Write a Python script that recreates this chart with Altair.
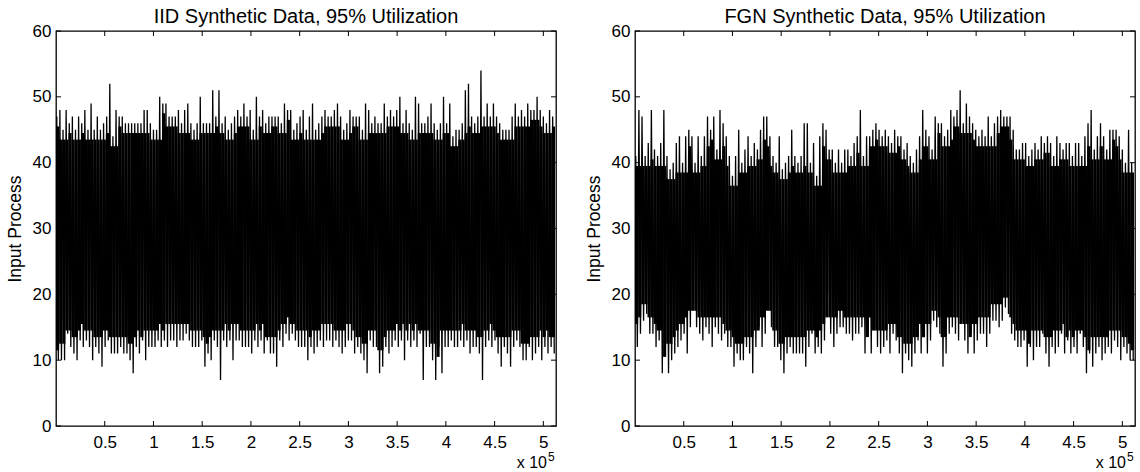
import altair as alt
import pandas as pd

# ---------------- data ----------------
N_TOTAL = 513000          # x extent of both panels (samples)
BIN = 3200                # samples summarised by each hi/lo pair

iid_hi = [47, 48, 45, 48, 46, 47, 45, 47, 46, 48,
          45, 49, 45, 47, 45, 46, 47, 52, 44, 48,
          47, 47, 46, 46, 46, 46, 46, 46, 48, 48,
          46, 45, 45, 50, 49, 49, 47, 47, 47, 48,
          46, 48, 49, 46, 45, 46, 50, 46, 46, 46,
          51, 47, 51, 46, 47, 45, 46, 47, 48, 47,
          49, 47, 48, 45, 50, 47, 48, 46, 47, 47,
          47, 47, 46, 49, 48, 48, 45, 46,
          47, 48, 45, 47, 49, 45, 46, 47, 48, 47,
          47, 48, 49, 47, 45, 46, 48, 47, 47, 47,
          45, 49, 48, 46, 47, 46, 46, 49, 47, 48,
          47, 48, 50, 46, 48, 46, 45, 50, 49, 46,
          46, 47, 49, 46, 45, 46, 50, 46, 49, 44,
          45, 45, 46, 51, 52, 47, 46, 47, 54, 47,
          49, 47, 49, 47, 46, 45, 45, 45, 47, 49,
          47, 48, 47, 49, 48, 48, 50, 48, 47, 46,
          48, 47]

iid_lo = [10, 10, 10, 14, 12, 11, 10, 13, 12, 13,
          12, 10, 12, 11, 9, 12, 13, 11, 11, 11,
          12, 11, 11, 10, 8, 12, 11, 13, 10, 12,
          12, 12, 13, 12, 13, 12, 13, 13, 12, 13,
          13, 14, 13, 12, 12, 12, 13, 9, 11, 10,
          13, 12, 7, 13, 12, 13, 10, 13, 13, 12,
          12, 12, 11, 13, 12, 13, 11, 13, 11, 11,
          9, 13, 12, 14, 13, 14, 13, 12,
          12, 12, 10, 12, 11, 12, 13, 12, 13, 13,
          12, 13, 12, 11, 12, 13, 13, 11, 12, 11,
          10, 8, 13, 12, 12, 8, 9, 12, 11, 12,
          13, 12, 13, 10, 13, 12, 13, 12, 14, 7,
          12, 12, 10, 7, 12, 8, 12, 12, 13, 12,
          12, 13, 12, 13, 11, 12, 12, 11, 7, 12,
          13, 12, 13, 11, 9, 12, 11, 9, 12, 13,
          12, 10, 10, 12, 10, 11, 12, 10, 12, 11,
          12, 11]

fgn_hi = [41, 48, 47, 41, 43, 48, 42, 41, 43, 48,
          41, 39, 40, 43, 44, 40, 44, 45, 44, 40,
          44, 41, 44, 47, 45, 47, 42, 48, 46, 44,
          41, 38, 41, 45, 40, 42, 44, 41, 43, 42,
          45, 47, 47, 44, 41, 40, 44, 39, 40, 41,
          45, 41, 40, 41, 46, 46, 40, 43, 38, 44,
          46, 45, 42, 42, 40, 42, 40, 42, 42, 41,
          43, 44, 48, 41,
          44, 44, 45, 46, 45, 44, 45, 44, 43, 45,
          44, 44, 42, 43, 41, 40, 42, 44, 48, 45,
          44, 42, 47, 46, 46, 44, 45, 48, 47, 48,
          51, 46, 49, 47, 46, 45, 44, 45, 44, 47,
          44, 46, 47, 48, 47, 47, 47, 45, 42, 42,
          43, 43, 41, 42, 43, 42, 44, 43, 44, 43,
          41, 44, 43, 42, 43, 43, 41, 43, 43, 41,
          44, 46, 48, 42, 44, 46, 44, 42, 45, 45,
          45, 44, 42, 40, 45, 40]

fgn_lo = [12, 14, 16, 17, 14, 14, 12, 13, 8, 12,
          8, 10, 11, 12, 13, 14, 11, 15, 18, 15,
          14, 13, 15, 14, 12, 15, 14, 13, 14, 12,
          12, 9, 11, 10, 10, 12, 11, 8, 12, 15,
          12, 14, 19, 15, 12, 12, 10, 8, 11, 12,
          11, 11, 11, 11, 9, 12, 14, 11, 12, 11,
          13, 20, 14, 12, 14, 15, 15, 14, 14, 13,
          14, 14, 15, 11,
          14, 11, 15, 12, 11, 12, 13, 11, 14, 13,
          11, 8, 11, 10, 9, 11, 13, 11, 14, 11,
          13, 16, 15, 14, 9, 11, 14, 15, 14, 13,
          16, 13, 11, 14, 11, 13, 14, 14, 12, 14,
          16, 16, 15, 16, 18, 17, 14, 13, 12, 12,
          13, 9, 12, 10, 12, 12, 14, 11, 9, 12,
          11, 12, 14, 11, 13, 11, 12, 11, 14, 12,
          8, 11, 9, 11, 12, 10, 11, 12, 11, 13,
          12, 10, 12, 11, 10, 10]

x_ticks = [50000, 100000, 150000, 200000, 250000,
           300000, 350000, 400000, 450000, 500000]
y_ticks = [0, 10, 20, 30, 40, 50, 60]

titles = ["IID Synthetic Data, 95% Utilization",
          "FGN Synthetic Data, 95% Utilization"]
y_title = "Input Process"
exp_base = "x 10"
exp_power = "5"

FONT = "Liberation Sans"
W, H = 500, 395


def series_frame(hi, lo):
    rows = []
    for i, (h, l) in enumerate(zip(hi, lo)):
        rows.append({"t": i * BIN + BIN * 0.25, "v": h})
        rows.append({"t": i * BIN + BIN * 0.75, "v": l})
    return pd.DataFrame(rows)


def core_frame(hi, lo):
    # densely filled middle of each bin: below the lowest nearby peak, above the highest nearby trough
    n = len(hi)
    rows = []
    for i in range(n):
        a, b = max(0, i - 1), min(n, i + 2)
        lo_n = sorted(lo[a:b])
        rows.append({"t": i * BIN, "t2": (i + 1) * BIN,
                     "v": lo_n[-2] + 2.5 if len(lo_n) > 2 else lo_n[-1] + 1.5,
                     "v2": min(hi[a:b]) - 1.5})
    return pd.DataFrame(rows)


def panel(hi, lo, title, title_offset):
    xs = alt.Scale(domain=[0, N_TOTAL], nice=False, zero=False)
    ys = alt.Scale(domain=[0, 60], nice=False)
    x_axis = alt.Axis(values=x_ticks, ticks=False, domain=False, grid=False,
                      labelExpr="format(datum.value / 100000, '~g')",
                      labelFont=FONT, labelFontSize=17, labelColor="black",
                      labelPadding=8, labelFlush=False)
    y_axis = alt.Axis(values=y_ticks, ticks=False, domain=False, grid=False,
                      labelFont=FONT, labelFontSize=17, labelColor="black",
                      labelPadding=5, titleFont=FONT, titleFontSize=17.5,
                      titleFontWeight="normal", titleColor="black",
                      titlePadding=8)

    def X(f):
        return alt.X(f, type="quantitative", scale=xs, title=None, axis=x_axis)

    def Y(f):
        return alt.Y(f, type="quantitative", scale=ys, title=y_title, axis=y_axis)

    core = alt.Chart(core_frame(hi, lo)).mark_rect(color="black").encode(
        x=X("t"), x2="t2", y=Y("v"), y2="v2")

    line = alt.Chart(series_frame(hi, lo)).mark_line(
        color="black", strokeWidth=1.3, strokeJoin="bevel"
    ).encode(x=X("t"), y=Y("v"))

    xt = alt.Chart(pd.DataFrame({"t": x_ticks}))
    yt = alt.Chart(pd.DataFrame({"v": y_ticks}))
    tick_bottom = xt.mark_rule(color="black", strokeWidth=1).encode(
        x=X("t"), y=alt.value(H), y2=alt.value(H - 5))
    tick_top = xt.mark_rule(color="black", strokeWidth=1).encode(
        x=X("t"), y=alt.value(0), y2=alt.value(5))
    tick_left = yt.mark_rule(color="black", strokeWidth=1).encode(
        y=Y("v"), x=alt.value(0), x2=alt.value(5))
    tick_right = yt.mark_rule(color="black", strokeWidth=1).encode(
        y=Y("v"), x=alt.value(W), x2=alt.value(W - 5))

    one = alt.Chart(pd.DataFrame({"a": [0]}))
    exp1 = one.mark_text(text=exp_base, font=FONT, fontSize=16, align="right",
                         baseline="alphabetic", color="black").encode(
        x=alt.value(W - 9), y=alt.value(H + 42))
    exp2 = one.mark_text(text=exp_power, font=FONT, fontSize=12, align="left",
                         baseline="alphabetic", color="black").encode(
        x=alt.value(W - 8), y=alt.value(H + 35))

    return alt.layer(core, line, tick_bottom, tick_top, tick_left, tick_right,
                     exp1, exp2).properties(
        width=W, height=H,
        title=alt.TitleParams(title, font=FONT, fontSize=20, fontWeight="normal",
                              color="black", anchor="middle", offset=title_offset),
    )


left = panel(iid_hi, iid_lo, titles[0], -5)
right = panel(fgn_hi, fgn_lo, titles[1], -5)

chart = alt.hconcat(left, right, spacing=26).properties(
    padding={"left": 5, "top": 6, "right": 0, "bottom": 0},
    background="white",
).configure_view(stroke="black", strokeWidth=1.3)

chart.save("out.html", embed_options={"renderer": "svg", "actions": False})
